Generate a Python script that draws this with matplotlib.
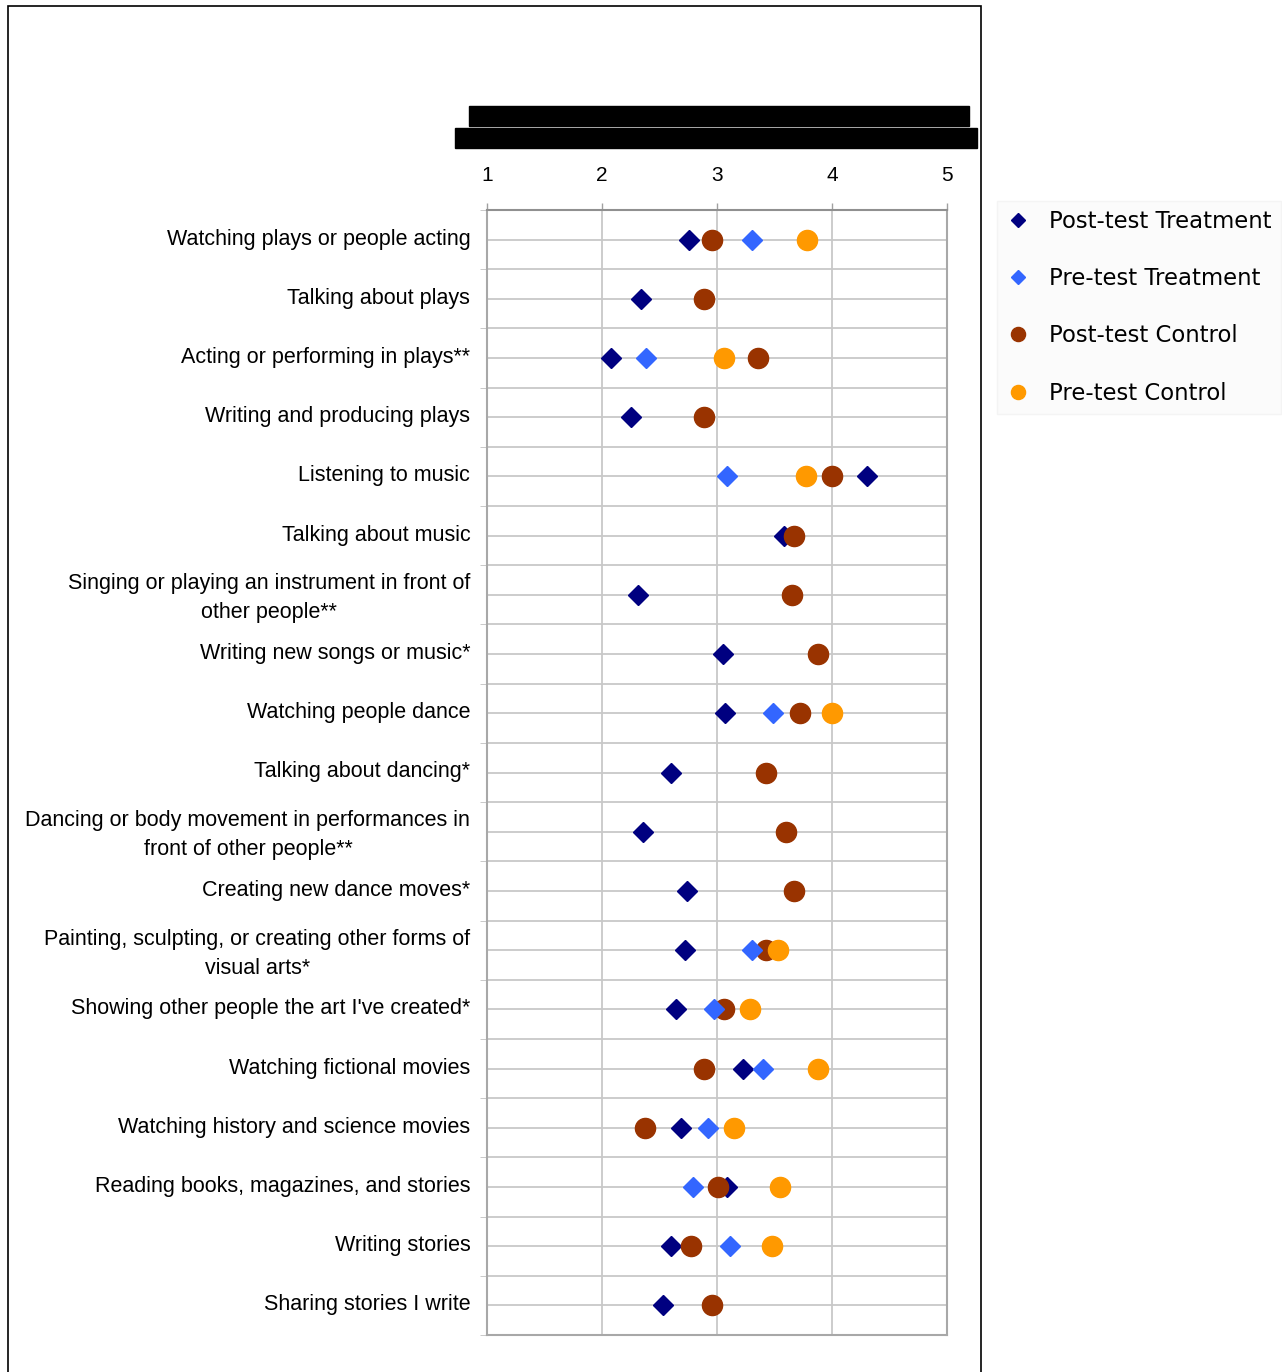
import numpy as np
import matplotlib
matplotlib.use("Agg")
import matplotlib.pyplot as plt
import matplotlib.transforms as mtransforms
from matplotlib.patches import Rectangle

categories = [
    "Watching plays or people acting",
    "Talking about plays",
    "Acting or performing in plays**",
    "Writing and producing plays",
    "Listening to music",
    "Talking about music",
    "Singing or playing an instrument in front of\nother people**",
    "Writing new songs or music*",
    "Watching people dance",
    "Talking about dancing*",
    "Dancing or body movement in performances in\nfront of other people**",
    "Creating new dance moves*",
    "Painting, sculpting, or creating other forms of\nvisual arts*",
    "Showing other people the art I've created*",
    "Watching fictional movies",
    "Watching history and science movies",
    "Reading books, magazines, and stories",
    "Writing stories",
    "Sharing stories I write",
]

nan = np.nan
post_treatment = [2.76, 2.34, 2.08, 2.25, 4.30, 3.58, 2.31, 3.05, 3.07, 2.60,
                  2.36, 2.74, 2.72, 2.64, 3.23, 2.69, 3.09, 2.60, 2.53]
pre_treatment = [3.30, nan, 2.38, nan, 3.09, nan, nan, nan, 3.49, nan,
                 nan, nan, 3.30, 2.97, 3.40, 2.92, 2.79, 3.11, nan]
post_control = [2.96, 2.89, 3.36, 2.89, 4.00, 3.67, 3.65, 3.88, 3.72, 3.43,
                3.60, 3.67, 3.43, 3.06, 2.89, 2.37, 3.01, 2.77, 2.96]
pre_control = [3.78, nan, 3.06, nan, 3.77, nan, nan, nan, 4.00, nan,
               nan, nan, 3.53, 3.29, 3.88, 3.15, 3.55, 3.48, nan]

x_ticks = [1, 2, 3, 4, 5]

W, H = 1282, 1372
fig = plt.figure(figsize=(W / 100, H / 100), dpi=100)
fig.patch.set_facecolor("white")

# plot area in pixel terms of the reference
left, right, top, bottom = 487, 947, 210, 1335
ax = fig.add_axes([left / W, 1 - bottom / H, (right - left) / W, (bottom - top) / H])

y = np.arange(len(categories))

# draw order: dark diamonds underneath, orange circles on top
ax.plot(post_treatment, y, "D", color="#000080", ms=10.5, ls="none",
        label="Post-test Treatment", zorder=3)
ax.plot(post_control, y, "o", color="#993300", ms=14.5, ls="none",
        label="Post-test Control", zorder=4)
ax.plot(pre_treatment, y, "D", color="#3366ff", ms=10.5, ls="none",
        label="Pre-test Treatment", zorder=5)
ax.plot(pre_control, y, "o", color="#ff9900", ms=14.5, ls="none",
        label="Pre-test Control", zorder=6)

ax.set_xlim(1, 5)
ax.set_ylim(len(categories) - 0.5, -0.5)

ax.xaxis.tick_top()
ax.set_xticks(x_ticks)
ax.set_xticklabels([str(v) for v in x_ticks], fontsize=15, family="Liberation Sans")
ax.tick_params(axis="x", which="major", direction="out", length=5, width=1,
               color="#a0a0a0", pad=13)

ax.set_yticks(y)
ax.set_yticklabels(categories, fontsize=15.5, family="Liberation Sans",
                   multialignment="center", linespacing=1.5)
ax.set_yticks(np.arange(len(categories) + 1) - 0.5, minor=True)
ax.tick_params(axis="y", which="major", length=0, pad=12)
ax.tick_params(axis="y", which="minor", direction="out", length=5, color="#c0c0c0")

# nudge the category labels up a few pixels
shift = mtransforms.ScaledTranslation(0, 3 / 100, fig.dpi_scale_trans)
for lab in ax.get_yticklabels():
    lab.set_transform(lab.get_transform() + shift)

# gridlines at every row centre and every row boundary
ax.grid(True, which="major", color="#c8c8c8", lw=1.3, zorder=0)
ax.grid(True, which="minor", axis="y", color="#c8c8c8", lw=1.3, zorder=0)
ax.set_axisbelow(True)

for side in ["top", "left", "right", "bottom"]:
    ax.spines[side].set_color("#a8a8a8")
    ax.spines[side].set_linewidth(1.5)
ax.spines["top"].set_color("#909090")

# redaction bars and outer frame from the original image
fig.patches.append(Rectangle((469 / W, 1 - 126 / H), 500 / W, 20 / H,
                             transform=fig.transFigure, color="black"))
fig.patches.append(Rectangle((455 / W, 1 - 148 / H), 522 / W, 20 / H,
                             transform=fig.transFigure, color="black"))
fig.patches.append(Rectangle((8 / W, -0.01), 973 / W, 1 - 6 / H + 0.01,
                             transform=fig.transFigure, fill=False,
                             edgecolor="black", lw=1.2))

handles, labels = ax.get_legend_handles_labels()
order = [0, 2, 1, 3]
leg = fig.legend([handles[i] for i in order], [labels[i] for i in order],
                 loc="upper left", bbox_to_anchor=(997 / W, 1 - 201 / H),
                 borderaxespad=0,
                 prop={"family": "DejaVu Sans", "size": 16.4},
                 markerscale=0.7, labelspacing=1.5, handletextpad=0.89,
                 handlelength=1.0, borderpad=0.4, frameon=True, fancybox=False)
leg.get_frame().set_facecolor("#fbfbfb")
leg.get_frame().set_edgecolor("#f2f2f2")

fig.savefig("out.png", dpi=100)
